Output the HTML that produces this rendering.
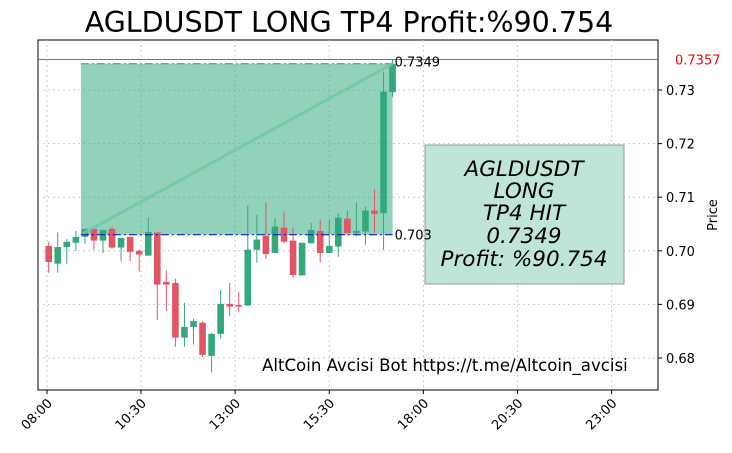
<!DOCTYPE html>
<html><head><meta charset="utf-8"><style>
body{margin:0;background:#fff;font-family:"Liberation Sans","DejaVu Sans",sans-serif}
svg text{font-family:"DejaVu Sans","Liberation Sans",sans-serif}
</style></head><body>
<svg id="chart" width="732" height="448" xmlns="http://www.w3.org/2000/svg">
<text x="349" y="32" font-size="28.5" text-anchor="middle" fill="#000">AGLDUSDT LONG TP4 Profit:%90.754</text>
<rect x="38" y="40" width="620" height="350" fill="#fff" stroke="#000" stroke-width="1"/>
<g id="grid"></g><g id="marks"></g><g id="axes"></g>
<text x="262" y="371" font-size="16.6" fill="#000">AltCoin Avcisi Bot https://t.me/Altcoin_avcisi</text>
<rect x="425" y="145" width="199" height="139" fill="#bfe5d8" stroke="#999"/>
<g font-size="21.5" font-style="italic" text-anchor="middle" fill="#000">
<text x="524" y="176">AGLDUSDT</text><text x="524" y="198">LONG</text><text x="524" y="220">TP4 HIT</text><text x="524" y="243">0.7349</text><text x="524" y="266">Profit: %90.754</text></g>
<g id="labels"></g>
<text transform="translate(717,215) rotate(-90)" font-size="13" text-anchor="middle">Price</text>
</svg>
<script>
const opens=[0.7009,0.6976,0.7007,0.7015,0.7026,0.7041,0.7019,0.7041,0.7006,0.7026,0.7000,0.6991,0.7034,0.6942,0.6940,0.6838,0.6858,0.6866,0.6804,0.6845,0.6901,0.6899,0.6898,0.7002,0.7028,0.6996,0.7043,0.7019,0.6954,0.7014,0.7037,0.6996,0.7008,0.7060,0.7033,0.7036,0.7075,0.7070,0.7296];
const closes=[0.6979,0.7007,0.7017,0.7026,0.7041,0.7019,0.7039,0.7006,0.7024,0.6998,0.6993,0.7035,0.6937,0.6937,0.6838,0.6858,0.6869,0.6806,0.6845,0.6901,0.6896,0.6896,0.7002,0.7021,0.6994,0.7045,0.7017,0.6955,0.7015,0.7039,0.6996,0.7009,0.7062,0.7033,0.7037,0.7075,0.7069,0.7297,0.7349];
const highs=[0.7017,0.7034,0.7022,0.7037,0.7041,0.7041,0.7039,0.7045,0.7024,0.7026,0.7002,0.7062,0.7035,0.6963,0.6948,0.6903,0.6873,0.6868,0.6847,0.6927,0.6940,0.6923,0.7084,0.7067,0.7090,0.7060,0.7073,0.7043,0.7015,0.7052,0.7058,0.7058,0.7070,0.7076,0.7090,0.7082,0.7114,0.7334,0.7357];
const lows=[0.6959,0.6959,0.6976,0.7000,0.7013,0.7002,0.6996,0.7004,0.6980,0.6981,0.6961,0.6991,0.6871,0.6888,0.6821,0.6821,0.6825,0.6802,0.6773,0.6836,0.6879,0.6886,0.6897,0.6978,0.6985,0.6996,0.7014,0.6950,0.6954,0.7014,0.6978,0.6996,0.6989,0.7033,0.7027,0.7011,0.7034,0.7002,0.7287];
const yTicks=[0.68,0.69,0.70,0.71,0.72,0.73];
const xTickLabels=["08:00","10:30","13:00","15:30","18:00","20:30","23:00"];
const xTickIdx=[-0.19,10.2,20.6,31.0,41.4,51.8,62.2];
const entry=0.703, tp=0.7349, markPrice=0.7357, entryIdx=4, exitIdx=38;
const NS="http://www.w3.org/2000/svg";
const x=i=>48.7+9.05*i;
const y=p=>90+(0.73-p)*5360;
function mk(tag,attrs,parent){const e=document.createElementNS(NS,tag);for(const k in attrs)e.setAttribute(k,attrs[k]);document.getElementById(parent).appendChild(e);return e;}
yTicks.forEach((t,i)=>{
 const g=mk('line',{x1:38,x2:658,y1:y(t),y2:y(t),stroke:'#ccc','stroke-dasharray':'2,3'},'grid');
 
 
 mk('line',{x1:658,x2:662,y1:y(t),y2:y(t),stroke:'#000'},'axes');
 const tx=mk('text',{x:666,y:y(t)+5,'font-size':13},'axes');tx.textContent=t.toFixed(2);
 
 
});
xTickIdx.forEach((t,i)=>{
 const g=mk('line',{x1:x(t),x2:x(t),y1:40,y2:390,stroke:'#ccc','stroke-dasharray':'2,3'},'grid');
 
 
 mk('line',{x1:x(t),x2:x(t),y1:390,y2:394,stroke:'#000'},'axes');
 const tx=mk('text',{transform:`translate(${x(t)+6},${404}) rotate(-45)`,'font-size':13,'text-anchor':'end'},'axes');tx.textContent=xTickLabels[i];
 
 
});
const xa=x(entryIdx)-4, xb=x(exitIdx);
const z=mk('rect',{x:xa,y:y(tp),width:xb-xa,height:y(entry)-y(tp),fill:'rgba(38,166,120,0.5)'},'marks');


const tl=mk('line',{x1:xa,x2:xb,y1:y(tp),y2:y(tp),stroke:'#4a8a70','stroke-dasharray':'8,3,2,3'},'marks');


const ml=mk('line',{x1:38,x2:658,y1:y(markPrice),y2:y(markPrice),stroke:'#e03030','stroke-width':0.8},'marks');


const mt=mk('text',{x:675,y:y(markPrice)+5,'font-size':13,fill:'red'},'axes');mt.textContent=markPrice.toFixed(4);


opens.forEach((o,i)=>{
 const c=closes[i],up=c>=o,col=up?'#32a87c':'#e35464';
 const w=mk('line',{x1:x(i),x2:x(i),y1:y(highs[i]),y2:y(lows[i]),stroke:col,'stroke-width':1},'marks');
 
 
 const top=y(Math.max(o,c)),h=Math.max(1.5,Math.abs(y(o)-y(c)));
 const b=mk('rect',{x:x(i)-3.3,y:top,width:6.6,height:h,fill:col},'marks');
 
 
});
const dl=mk('line',{x1:xa,x2:xb,y1:y(entry),y2:y(tp),stroke:'rgba(110,200,165,0.8)','stroke-width':3},'marks');


const el=mk('line',{x1:xa,x2:xb,y1:y(entry),y2:y(entry),stroke:'#0000cc','stroke-dasharray':'8,3,2,3'},'marks');


const et=mk('text',{x:xb+2,y:y(entry)+5,'font-size':13},'labels');et.textContent=entry.toString();


const tt=mk('text',{x:xb+2,y:y(tp)+3,'font-size':13},'labels');tt.textContent=tp.toString();


</script>
</body></html>
